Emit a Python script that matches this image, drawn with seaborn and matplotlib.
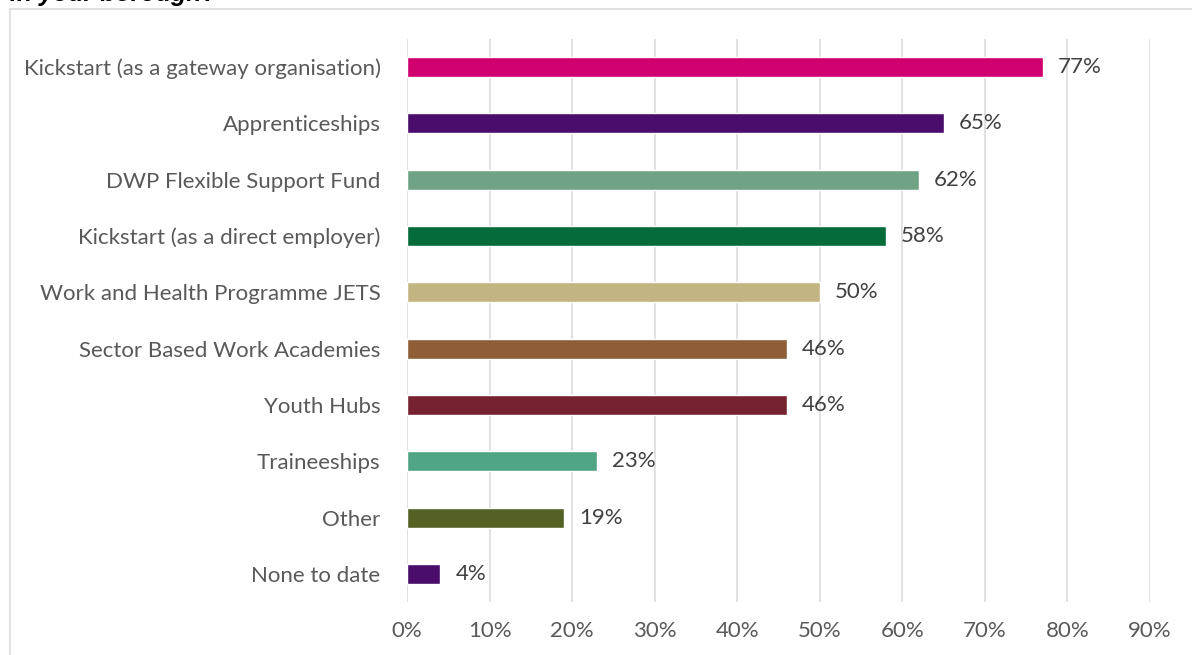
import matplotlib
matplotlib.use("Agg")
import matplotlib.pyplot as plt
from matplotlib.patches import Rectangle
from matplotlib.ticker import FuncFormatter, MultipleLocator
import seaborn as sns
import pandas as pd

# Programmes used in the borough and share of respondents using each
programmes = [
    "Kickstart (as a gateway organisation)",
    "Apprenticeships",
    "DWP Flexible Support Fund",
    "Kickstart (as a direct employer)",
    "Work and Health Programme JETS",
    "Sector Based Work Academies",
    "Youth Hubs",
    "Traineeships",
    "Other",
    "None to date",
]
share_pct = [77, 65, 62, 58, 50, 46, 46, 23, 19, 4]
bar_colors = [
    "#D0006F", "#4A0D6B", "#70A386", "#056B3A", "#C3B581",
    "#8F5E37", "#76212F", "#50A585", "#546125", "#4A0D6B",
]
title_tail = "in your borough?"

df = pd.DataFrame({"programme": programmes, "share": share_pct})

sns.set_theme(style="white")
plt.rcParams["font.family"] = ["Lato", "DejaVu Sans"]

fig = plt.figure(figsize=(11.92, 6.55), dpi=100)
ax = fig.add_axes([407 / 1192, 1 - 602 / 655, 743 / 1192, 563 / 655])

sns.barplot(
    data=df, y="programme", x="share", hue="programme",
    palette=bar_colors, legend=False, orient="h", width=0.355,
    saturation=1, ax=ax,
)

ax.set_xlim(0, 90)
ax.set_ylim(9.5, -0.5)
ax.xaxis.set_major_locator(MultipleLocator(10))
ax.xaxis.set_major_formatter(FuncFormatter(lambda v, p: f"{v:.0f}%"))
ax.set_xlabel("")
ax.set_ylabel("")
ax.grid(axis="x", color="#D9D9D9", linewidth=1.1)
ax.grid(axis="y", visible=False)
ax.set_axisbelow(True)
for s in ax.spines.values():
    s.set_visible(False)
ax.tick_params(axis="x", length=0, pad=14, labelsize=16, labelcolor="#595959")
ax.tick_params(axis="y", length=0, pad=19, labelsize=16, labelcolor="#595959")

for container in ax.containers:
    ax.bar_label(container, labels=[f"{v:.0f}%" for v in container.datavalues],
                 padding=11, fontsize=16, color="#404040")

# chart frame
fig.patches.append(Rectangle((9.5 / 1192, -0.1), 1.2, 1.1 - 9.5 / 655,
                             transform=fig.transFigure, fill=False,
                             edgecolor="#D9D9D9", linewidth=1.1))

fig.text(10 / 1192, 1 - 0.5 / 655, title_tail, ha="left", va="baseline",
         fontsize=18, fontweight="bold", fontstyle="italic",
         family=["Liberation Sans", "DejaVu Sans"], color="#000000")

fig.savefig("out.png", dpi=100)
